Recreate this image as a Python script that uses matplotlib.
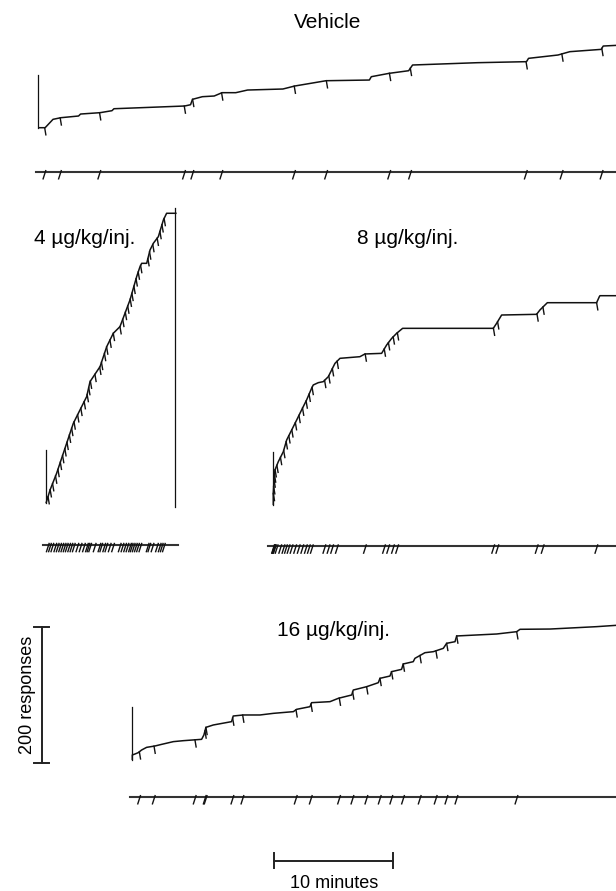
import numpy as np
import matplotlib
matplotlib.use("Agg")
import matplotlib.pyplot as plt

plt.rcParams['font.family'] = ['Liberation Sans', 'DejaVu Sans']

# ---------------- data (minutes, cumulative responses) ----------------
titles = ["Vehicle", "4 µg/kg/inj.", "8 µg/kg/inj.", "16 µg/kg/inj."]
scale_resp = 200
scale_min = 10
start_mark = 78  # height of start marker (responses)

veh_t = [0, 0.59, 1.25, 1.91, 3.39, 3.56, 5.2, 6.19, 6.36, 12.29, 12.78, 12.94,
         13.77, 14.76, 15.42, 16.57, 17.56, 20.52, 21.51, 22.83, 24.14, 27.77,
         27.93, 29.41, 31.06, 31.39, 36.82, 40.94, 41.11, 43.58, 44.57, 47.2,
         47.37, 48.6]
veh_c = [0, 0, 12.3, 14.7, 17.2, 20.1, 22.1, 25.0, 27.9, 31.9, 33.8, 41.7,
         45.6, 46.6, 51.5, 51.5, 55.4, 56.9, 61.3, 65.2, 69.1, 70.1,
         75.0, 79.9, 83.8, 92.2, 95.6, 97.1, 102.0, 106.9, 111.8, 115.2,
         120.1, 121.2]
veh_inj = [0.55, 1.85, 5.15, 12.25, 12.95, 15.38, 21.47, 24.16, 29.45, 31.2,
           40.9, 43.9, 47.25]

d4_t = [0, 0.34, 0.89, 1.45, 2.01, 2.29, 2.85, 3.41, 3.69, 4.53, 5.09, 5.64,
        6.2, 7.04, 7.6, 7.88, 8.02, 8.44, 8.72, 9.0, 9.42, 9.84, 10.11, 10.95]
d4_c = [0, 19.6, 44.1, 73.5, 102.9, 117.6, 137.3, 156.9, 178.9, 201.0, 230.4,
        250.0, 259.8, 299.0, 333.3, 348.0, 352.9, 352.9, 372.5, 382.4, 392.2,
        416.7, 426.5, 426.5]
d4_inj = [0.17, 0.35, 0.55, 0.8, 1.0, 1.2, 1.39, 1.58, 1.76, 1.96, 2.15, 2.35,
          2.65, 2.92, 3.2, 3.45, 3.58, 3.72, 4.1, 4.5, 4.65, 4.9, 5.08, 5.36,
          5.64, 6.2, 6.43, 6.65, 6.85, 7.06, 7.2, 7.37, 7.55, 7.73, 7.93,
          8.54, 8.68, 8.95, 9.32, 9.55, 9.72, 9.9]
d4_reset_t = 10.81
d4_reset_top = 434
d4_reset_bottom = -6

d8_t = [0, 0, 0.06, 0.14, 0.42, 0.84, 1.12, 1.54, 1.96, 2.37, 2.79, 3.21, 3.35,
        3.77, 4.19, 4.61, 4.89, 5.17, 5.59, 7.26, 7.68, 9.08, 9.5, 9.92, 10.34,
        10.84, 18.44, 18.72, 19.14, 22.07, 22.35, 22.97, 27.1, 27.33, 27.38,
        28.9]
d8_c = [0, 17.0, 36.8, 51.5, 63.7, 78.4, 95.6, 110.3, 125.0, 139.7, 154.4,
        171.6, 176.5, 179.9, 181.4, 188.7, 198.5, 208.3, 215.7, 218.1, 222.1,
        223.0, 235.3, 245.0, 252.5, 259.8, 259.8, 267.2, 279.4, 280.4, 286.8,
        297.5, 297.5, 306.4, 307.8, 307.8]
d8_inj = [0.0, 0.03, 0.06, 0.1, 0.15, 0.3, 0.6, 0.87, 1.08, 1.3, 1.55, 1.85,
          2.15, 2.45, 2.75, 3.0, 3.25, 4.3, 4.65, 4.95, 5.35, 7.7, 9.3, 9.65,
          10.05, 10.4, 18.45, 18.8, 22.1, 22.6, 27.1]

d16_t = [0, 0, 0.22, 0.5, 0.78, 1.2, 1.9, 2.46, 3.44, 4.27, 5.81, 6.0, 6.17,
         6.79, 8.32, 8.46, 9.3, 10.7, 11.82, 13.5, 13.77, 14.89, 15.03, 16.57,
         17.27, 18.39, 18.52, 19.64, 20.62, 20.76, 21.6, 21.73, 22.57, 22.71,
         23.55, 23.69, 24.53, 25.23, 26.07, 26.35, 27.05, 27.19, 30.54, 32.22,
         32.5, 35.02, 38.93, 40.7]
d16_c = [0, 7.4, 8.8, 10.8, 14.7, 18.6, 20.6, 23.0, 27.0, 28.4, 30.4, 36.8,
         48.0, 51.5, 56.4, 64.7, 66.2, 66.2, 68.6, 71.1, 74.5, 78.4, 84.3, 85.8,
         90.7, 95.6, 102.9, 107.8, 113.7, 120.1, 123.5, 129.9, 133.3, 141.2,
         144.6, 149.5, 157.8, 159.3, 164.2, 171.6, 174.0, 182.4, 185.3, 188.7,
         192.2, 192.6, 196.1, 198.2]
d16_inj = [0.59, 1.82, 5.25, 6.09, 6.17, 8.41, 9.25, 13.72, 14.98, 17.35,
           18.47, 19.64, 20.76, 21.73, 22.71, 24.11, 25.45, 26.35, 27.19, 32.22]

# ---------------- layout (pixels) ----------------
W, H = 616, 891
PX_PER_MIN = 11.93
PX_PER_RESP = 0.68


def px_x(x):
    return x / PX_PER_MIN


def px_y(y):
    return (H - y) / PX_PER_RESP


fig = plt.figure(figsize=(W / 100, H / 100), dpi=100)
ax = fig.add_axes([0, 0, 1, 1])
ax.set_xlim(0, px_x(W))
ax.set_ylim(0, px_y(0))
ax.axis('off')

CURVE_KW = dict(color='#111111', lw=1.1, solid_capstyle='butt')
EVENT_KW = dict(color='#333333', lw=1.5)


def draw_record(t, c, inj, origin, ev_y_px, ev_from_px, ev_to_px):
    ox, oy = px_x(origin[0]), px_y(origin[1])
    t = np.asarray(t, float)
    c = np.asarray(c, float)
    ax.plot(ox + t, oy + c, **CURVE_KW)
    ax.plot([ox, ox], [oy, oy + start_mark], color='#111111', lw=0.9)
    for ti in inj:
        ci = np.interp(ti, t, c)
        ax.plot([ox + ti, ox + ti + 0.1], [oy + ci, oy + ci - 10.5],
                color='#111111', lw=1.0)
    ey = px_y(ev_y_px)
    ax.plot([px_x(ev_from_px), px_x(ev_to_px)], [ey, ey], **EVENT_KW)
    for ti in inj:
        ax.plot([ox + ti + 0.09, ox + ti - 0.13], [ey + 1.5, ey - 10.5],
                color='#111111', lw=1.0)
    return ox, oy


draw_record(veh_t, veh_c, veh_inj, (38.1, 127.7), 171.7, 36, 640)
ox4, oy4 = draw_record(d4_t, d4_c, d4_inj, (46.0, 503.3), 544.5, 43, 178)
ax.plot([ox4 + d4_reset_t] * 2, [oy4 + d4_reset_bottom, oy4 + d4_reset_top],
        color='#111111', lw=0.9)
draw_record(d8_t, d8_c, d8_inj, (273.3, 505.0), 546.0, 268, 640)
draw_record(d16_t, d16_c, d16_inj, (132.3, 760.0), 796.7, 130, 640)

# titles
TFS = 15
ax.text(px_x(328), px_y(28), titles[0], fontsize=TFS, ha='center', va='baseline')
ax.text(px_x(84.5), px_y(243.5), titles[1], fontsize=TFS, ha='center', va='baseline')
ax.text(px_x(407.5), px_y(243.5), titles[2], fontsize=TFS, ha='center', va='baseline')
ax.text(px_x(333), px_y(636), titles[3], fontsize=TFS, ha='center', va='baseline')

# scale bars
bx = px_x(41.7)
by0 = px_y(762.7)
cap_w = px_x(7.5)
ax.plot([bx, bx], [by0, by0 + scale_resp], color='#222222', lw=1.4)
for yy in (by0, by0 + scale_resp):
    ax.plot([bx - cap_w, bx + cap_w], [yy, yy], color='#222222', lw=1.4)
ax.text(px_x(27), by0 + scale_resp / 2, f"{scale_resp} responses", fontsize=13,
        rotation=90, ha='center', va='center')

hx0 = px_x(274)
hy = px_y(860.7)
cap_h = 7.5 / PX_PER_RESP
ax.plot([hx0, hx0 + scale_min], [hy, hy], color='#222222', lw=1.4)
for xx in (hx0, hx0 + scale_min):
    ax.plot([xx, xx], [hy - cap_h, hy + cap_h], color='#222222', lw=1.4)
ax.text(hx0 + scale_min / 2, px_y(883), f"{scale_min} minutes", fontsize=13,
        ha='center', va='center')

fig.savefig("out.png", dpi=100)
